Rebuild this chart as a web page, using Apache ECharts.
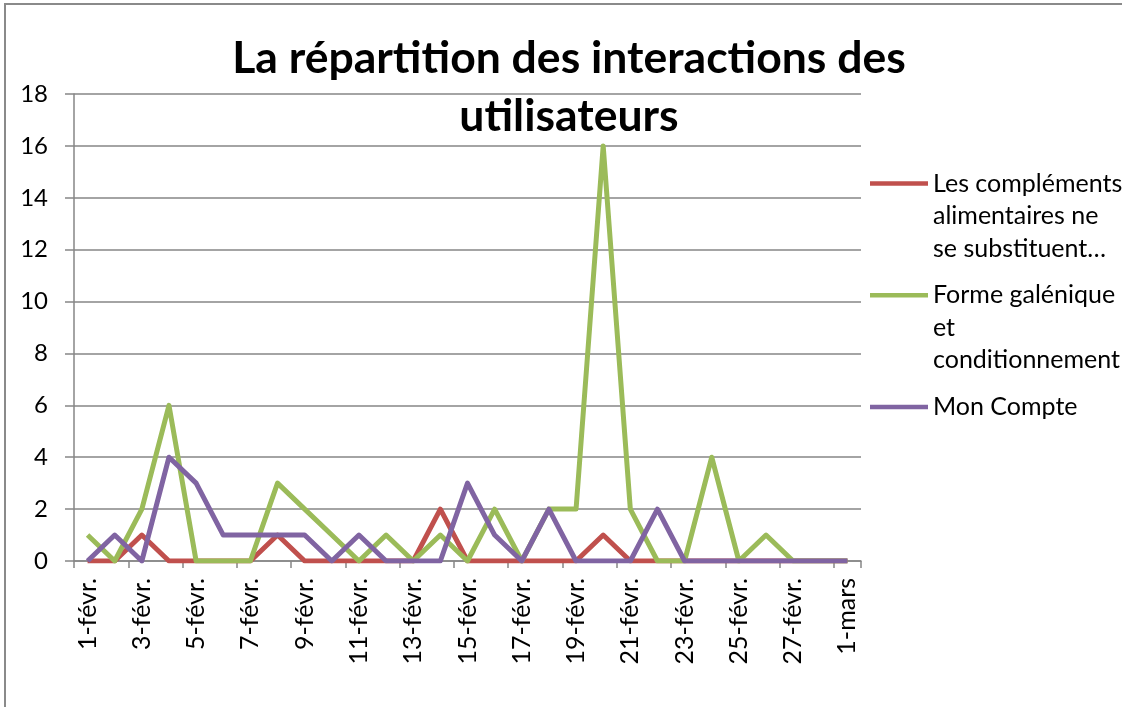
<!DOCTYPE html>
<html>
<head>
<meta charset="utf-8">
<script src="https://cdn.jsdelivr.net/npm/echarts@6/dist/echarts.min.js"></script>
<style>
  html, body { margin: 0; padding: 0; background: #fff; }
  #chart { width: 1122px; height: 707px; }
</style>
</head>
<body>
<div id="chart"></div>
<script>
// Daily interactions, 1 Feb – 1 Mar
const days = [
  '1-févr.', '2-févr.', '3-févr.', '4-févr.', '5-févr.', '6-févr.', '7-févr.',
  '8-févr.', '9-févr.', '10-févr.', '11-févr.', '12-févr.', '13-févr.', '14-févr.',
  '15-févr.', '16-févr.', '17-févr.', '18-févr.', '19-févr.', '20-févr.', '21-févr.',
  '22-févr.', '23-févr.', '24-févr.', '25-févr.', '26-févr.', '27-févr.', '28-févr.',
  '1-mars'
];

const seriesNames = [
  'Les compléments alimentaires ne se substituent…',
  'Forme galénique et conditionnement',
  'Mon Compte'
];

// Wrapped legend labels
const legendLabels = [
  ['Les compléments', 'alimentaires ne', 'se substituent…'],
  ['Forme galénique', 'et', 'conditionnement'],
  ['Mon Compte']
];

const complements = [0, 0, 1, 0, 0, 0, 0, 1, 0, 0, 0, 0, 0, 2, 0, 0, 0, 0, 0, 1, 0, 0, 0, 0, 0, 0, 0, 0, 0];
const formeGalenique = [1, 0, 2, 6, 0, 0, 0, 3, 2, 1, 0, 1, 0, 1, 0, 2, 0, 2, 2, 16, 2, 0, 0, 4, 0, 1, 0, 0, 0];
const monCompte = [0, 1, 0, 4, 3, 1, 1, 1, 1, 0, 1, 0, 0, 0, 3, 1, 0, 2, 0, 0, 0, 2, 0, 0, 0, 0, 0, 0, 0];

const colors = ['#C0504D', '#9BBB59', '#8064A2'];
const FONT = 'Lato';
const LH = 32.5;

const chart = echarts.init(document.getElementById('chart'), null, { renderer: 'canvas' });

// Each legend block is padded with spacer lines so that its first
// wrapped line stays level with the line icon (icon sits at block middle).
function legendText(name) {
  const lines = legendLabels[seriesNames.indexOf(name)].map(l => '{t|' + l + '}');
  const out = ['{s| }'].concat(lines);
  if (lines.length === 1) out.push('{s| }');
  return out.join('\n');
}

chart.setOption({
  backgroundColor: '#fff',
  animation: false,
  color: colors,
  title: {
    text: 'La répartition des interactions des\nutilisateurs',
    left: 564,
    textAlign: 'center',
    top: 25,
    textStyle: {
      fontFamily: FONT,
      fontWeight: 'bold',
      fontSize: 44.5,
      lineHeight: 58,
      color: '#000'
    }
  },
  legend: {
    orient: 'vertical',
    left: 870,
    top: 183 - (5 * LH) / 2 + 28,
    padding: 0,
    itemGap: -19.5,
    icon: 'rect',
    itemWidth: 58,
    itemHeight: 4.5,
    data: seriesNames,
    formatter: legendText,
    textStyle: {
      fontFamily: FONT,
      fontSize: 25,
      color: '#000',
      rich: {
        s: { fontSize: 10, lineHeight: 2 * LH, fontFamily: FONT },
        t: { fontSize: 25, lineHeight: LH, fontFamily: FONT, color: '#000' }
      }
    }
  },
  graphic: [{
    type: 'rect',
    shape: { x: 5, y: 4, width: 1300, height: 900 },
    style: { fill: 'none', stroke: '#8a8a8a', lineWidth: 2 },
    silent: true,
    z: 100
  }],
  grid: {
    left: 74,
    right: 1122 - 861,
    top: 94,
    bottom: 707 - 561
  },
  xAxis: {
    type: 'category',
    data: days,
    boundaryGap: true,
    axisLine: { show: true, lineStyle: { color: '#868686', width: 1.5 } },
    axisTick: { show: true, interval: 1, length: 7, lineStyle: { color: '#868686', width: 1.5 } },
    axisLabel: {
      interval: 1,
      rotate: 90,
      margin: 17,
      fontFamily: FONT,
      fontSize: 25,
      color: '#000'
    },
    splitLine: { show: false }
  },
  yAxis: {
    type: 'value',
    min: 0,
    max: 18,
    interval: 2,
    axisLine: { show: true, lineStyle: { color: '#868686', width: 1.5 } },
    axisTick: { show: true, length: 9, lineStyle: { color: '#868686', width: 1.5 } },
    axisLabel: {
      margin: 26,
      fontFamily: FONT,
      fontSize: 24,
      color: '#000'
    },
    splitLine: { show: true, lineStyle: { color: '#868686', width: 1.5 } }
  },
  series: [
    { name: seriesNames[0], type: 'line', data: complements },
    { name: seriesNames[1], type: 'line', data: formeGalenique },
    { name: seriesNames[2], type: 'line', data: monCompte }
  ].map((s, i) => Object.assign(s, {
    symbol: 'none',
    lineStyle: { width: 5, color: colors[i], join: 'round' },
    itemStyle: { color: colors[i] }
  }))
});
</script>
</body>
</html>
